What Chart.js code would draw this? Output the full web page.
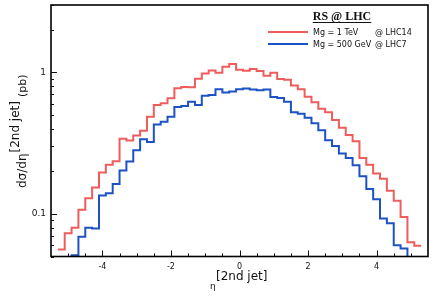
<!DOCTYPE html>
<html>
<head>
<meta charset="utf-8">
<script src="https://cdn.jsdelivr.net/npm/chart.js@4.4.1/dist/chart.umd.min.js"></script>
<style>
  html, body { margin: 0; padding: 0; background: #fff; }
</style>
</head>
<body>
<canvas id="eta2" width="436" height="308"></canvas>
<script>
// bordes de los bins en eta (ancho 0.2)
var binEdges = [-5.3, -5.1, -4.9, -4.7, -4.5, -4.3, -4.1, -3.9, -3.7, -3.5, -3.3, -3.1, -2.9, -2.7,
  -2.5, -2.3, -2.1, -1.9, -1.7, -1.5, -1.3, -1.1, -0.9, -0.7, -0.5, -0.3, -0.1, 0.1, 0.3, 0.5,
  0.7, 0.9, 1.1, 1.3, 1.5, 1.7, 1.9, 2.1, 2.3, 2.5, 2.7, 2.9, 3.1, 3.3, 3.5, 3.7, 3.9, 4.1,
  4.3, 4.5, 4.7, 4.9, 5.1, 5.3];

// Mg = 1 TeV @ LHC14
var rsLHC14 = [0.056, 0.073, 0.080, 0.107, 0.129, 0.154, 0.196, 0.223, 0.236, 0.340,
  0.330, 0.358, 0.387, 0.486, 0.589, 0.606, 0.657, 0.775, 0.789, 0.787,
  0.902, 0.985, 1.033, 0.995, 1.10, 1.15, 1.045, 1.03, 1.058, 1.025,
  0.95, 0.995, 0.90, 0.887, 0.808, 0.762, 0.675, 0.615, 0.555, 0.523,
  0.461, 0.406, 0.361, 0.327, 0.249, 0.223, 0.193, 0.177, 0.146, 0.124,
  0.095, 0.063, 0.0596];

// Mg = 500 GeV @ LHC7 (0.04 = por debajo del eje)
var rsLHC7 = [0.04, 0.04, 0.051, 0.069, 0.080, 0.079, 0.135, 0.140, 0.163, 0.203,
  0.235, 0.282, 0.337, 0.323, 0.428, 0.448, 0.486, 0.570, 0.580, 0.620,
  0.590, 0.685, 0.694, 0.762, 0.721, 0.733, 0.762, 0.772, 0.757, 0.750,
  0.757, 0.670, 0.660, 0.620, 0.523, 0.511, 0.478, 0.437, 0.390, 0.332,
  0.302, 0.267, 0.249, 0.221, 0.185, 0.150, 0.127, 0.093, 0.086, 0.060,
  0.057, 0.04, 0.04];

var xTicks = [-4, -2, 0, 2, 4];
var yTicks = [0.1, 1];
var yTickLabels = ['0.1', '1'];
var legendTitle = 'RS @ LHC';
var seriesNames = [['Mg = 1 TeV', '@ LHC14'], ['Mg = 500 GeV', '@ LHC7']];
var seriesColors = ['rgb(238, 92, 92)', 'rgb(28, 82, 196)'];

function escalones(values) {
  var pts = [];
  for (var i = 0; i < values.length; i++) {
    pts.push({ x: binEdges[i], y: values[i] });
  }
  pts.push({ x: binEdges[values.length], y: values[values.length - 1] });
  return pts;
}

var marco = {
  id: 'marco',
  afterDraw: function (chart) {
    var ctx = chart.ctx, a = chart.chartArea;
    var sx = chart.scales.x, sy = chart.scales.y;
    ctx.save();
    ctx.strokeStyle = '#000';
    ctx.lineWidth = 1.6;
    ctx.strokeRect(a.left, a.top, a.right - a.left, a.bottom - a.top);

    // ticks hacia adentro
    ctx.lineWidth = 1;
    ctx.strokeStyle = '#111';
    ctx.beginPath();
    for (var v = -5; v <= 5; v += 0.5) {
      var px = Math.round(sx.getPixelForValue(v)) + 0.5;
      var len = xTicks.indexOf(v) >= 0 ? 6 : 3;
      ctx.moveTo(px, a.bottom);
      ctx.lineTo(px, a.bottom - len);
    }
    for (var d = 0.01; d < 10; d *= 10) {
      for (var m = 1; m < 10; m++) {
        var val = m * d;
        if (val < sy.min || val > sy.max) continue;
        var py = Math.round(sy.getPixelForValue(val)) + 0.5;
        var l = m === 1 ? 6 : 3;
        ctx.moveTo(a.left, py);
        ctx.lineTo(a.left + l, py);
      }
    }
    ctx.stroke();

    // titulo eje x
    ctx.fillStyle = '#111';
    ctx.textAlign = 'left';
    ctx.textBaseline = 'alphabetic';
    ctx.font = '9px "DejaVu Sans"';
    ctx.fillText('\u03b7', 210, 289);
    ctx.font = '12px "DejaVu Sans"';
    ctx.fillText('[2nd jet]', 216, 280);

    // titulo eje y
    ctx.save();
    ctx.translate(26, 188);
    ctx.rotate(-Math.PI / 2);
    ctx.font = '12px "DejaVu Sans"';
    ctx.fillText('d\u03c3/d\u03b7', 0, 0);
    var w1 = ctx.measureText('d\u03c3/d\u03b7').width;
    ctx.fillText('[2nd jet]', w1 + 1, -7);
    var w2 = ctx.measureText('[2nd jet]').width;
    ctx.font = '11px "DejaVu Sans"';
    ctx.fillText('(pb)', w1 + w2 + 5, 0);
    ctx.restore();

    // leyenda
    ctx.textAlign = 'center';
    ctx.font = 'bold 12px "Liberation Serif"';
    ctx.fillText(legendTitle, 342, 20);
    var wt = ctx.measureText(legendTitle).width;
    ctx.lineWidth = 1;
    ctx.strokeStyle = '#111';
    ctx.beginPath();
    ctx.moveTo(342 - wt / 2, 22.5);
    ctx.lineTo(342 + wt / 2, 22.5);
    ctx.stroke();
    ctx.textAlign = 'left';
    ctx.font = '8px "DejaVu Sans"';
    for (var i = 0; i < seriesNames.length; i++) {
      var yy = 32 + i * 12;
      ctx.strokeStyle = seriesColors[i];
      ctx.lineWidth = 2;
      ctx.beginPath();
      ctx.moveTo(268, yy);
      ctx.lineTo(308, yy);
      ctx.stroke();
      ctx.fillText(seriesNames[i][0], 313, yy + 3);
      ctx.fillText(seriesNames[i][1], 375, yy + 3);
    }
    ctx.restore();
  }
};

var eta2 = document.getElementById('eta2').getContext('2d');

var histoEta = new Chart(eta2, {
  type: 'line',
  data: {
    datasets: [{
      label: seriesNames[0].join(' '),
      data: escalones(rsLHC14),
      borderColor: seriesColors[0],
      borderWidth: 2,
      stepped: true,
      pointRadius: 0,
      fill: false,
      clip: 0
    }, {
      label: seriesNames[1].join(' '),
      data: escalones(rsLHC7),
      borderColor: seriesColors[1],
      borderWidth: 2,
      stepped: true,
      pointRadius: 0,
      fill: false,
      clip: 0
    }]
  },
  options: {
    responsive: false,
    animation: false,
    devicePixelRatio: 1,
    layout: { padding: { top: 5, right: 8, left: 0, bottom: 0 } },
    plugins: { legend: { display: false }, tooltip: { enabled: false } },
    scales: {
      x: {
        type: 'linear',
        min: -5.5,
        max: 5.5,
        grid: { display: false, drawTicks: false },
        border: { display: false },
        afterBuildTicks: function (s) { s.ticks = xTicks.map(function (v) { return { value: v }; }); },
        afterFit: function (s) { s.height = 51.5; s.paddingLeft = 0; s.paddingRight = 0; },
        ticks: {
          padding: 6,
          maxRotation: 0,
          color: '#111',
          font: { family: 'DejaVu Sans', size: 8 },
          callback: function (v) { return String(v); }
        }
      },
      y: {
        type: 'logarithmic',
        min: 0.05,
        max: 3,
        grid: { display: false, drawTicks: false },
        border: { display: false },
        afterBuildTicks: function (s) { s.ticks = yTicks.map(function (v) { return { value: v }; }); },
        afterFit: function (s) { s.width = 51; s.paddingTop = 0; s.paddingBottom = 0; },
        ticks: {
          padding: 5,
          color: '#111',
          font: { family: 'DejaVu Sans', size: 9 },
          callback: function (v) { return yTickLabels[yTicks.indexOf(v)]; }
        }
      }
    }
  },
  plugins: [marco]
});
</script>
</body>
</html>
